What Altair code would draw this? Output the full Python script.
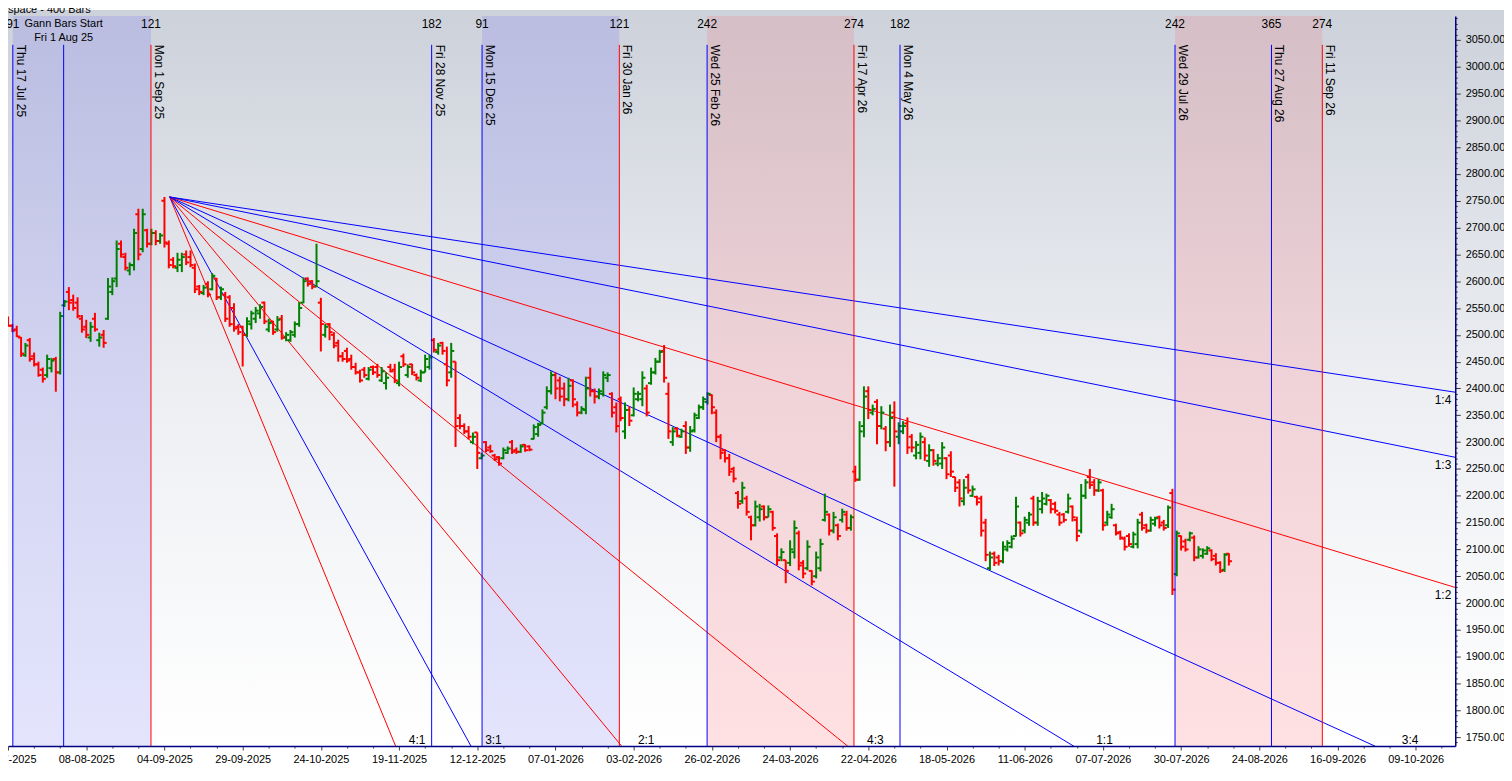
import altair as alt
import pandas as pd

# ---------------- data ----------------
bar_open = [
    2518, 2530, 2517, 2510, 2495, 2462, 2490, 2460, 2445, 2435,
    2425, 2438, 2455, 2430, 2555, 2580, 2565, 2560, 2530, 2515,
    2495, 2530, 2490, 2500, 2530, 2580, 2605, 2670, 2645, 2620,
    2630, 2725, 2660, 2695, 2670, 2690, 2675, 2750, 2670, 2640,
    2625, 2630, 2650, 2645, 2625, 2590, 2578, 2595, 2585, 2605,
    2570, 2575, 2570, 2550, 2515, 2515, 2500, 2520, 2530, 2540,
    2560, 2510, 2525, 2510, 2530, 2495, 2490, 2500, 2520, 2560,
    2605, 2600, 2590, 2560, 2500, 2520, 2500, 2485, 2460, 2470,
    2455, 2440, 2430, 2435, 2418, 2440, 2440, 2415, 2410, 2440,
    2435, 2410, 2460, 2425, 2445, 2425, 2415, 2430, 2440, 2490,
    2468, 2485, 2445, 2430, 2450, 2345, 2330, 2320, 2300, 2318,
    2270, 2300, 2290, 2275, 2272, 2270, 2280, 2300, 2285, 2282,
    2295, 2292, 2306, 2315, 2335, 2365, 2395, 2425, 2415, 2400,
    2380, 2415, 2370, 2355, 2360, 2420, 2395, 2385, 2390, 2420,
    2390, 2365, 2380, 2320, 2360, 2350, 2380, 2380, 2400, 2410,
    2430, 2450, 2470, 2390, 2300, 2325, 2310, 2330, 2290, 2322,
    2345, 2365, 2375, 2388, 2355, 2310, 2285, 2270, 2250, 2205,
    2190, 2195, 2160, 2145, 2160, 2180, 2160, 2170, 2125, 2085,
    2080, 2075, 2095, 2130, 2075, 2065, 2060, 2050, 2065, 2155,
    2165, 2135, 2145, 2155, 2165, 2140, 2245, 2230, 2330, 2395,
    2355, 2375, 2330, 2325, 2300, 2355, 2310, 2320, 2335, 2310,
    2275, 2280, 2300, 2265, 2285, 2260, 2260, 2270, 2275, 2235,
    2225, 2190, 2235, 2200, 2198, 2195, 2150, 2065, 2092, 2085,
    2078, 2100, 2105, 2125, 2150, 2135, 2150, 2195, 2150, 2175,
    2185, 2192, 2185, 2165, 2165, 2170, 2180, 2155, 2135, 2200,
    2235, 2225, 2210, 2210, 2150, 2160, 2145, 2132, 2120, 2125,
    2105, 2110, 2165, 2145, 2135, 2148, 2160, 2150, 2145, 2205,
    2054, 2125, 2115, 2118, 2122, 2085, 2088, 2092, 2098, 2088,
    2075, 2062, 2092,
]
bar_high = [
    2534, 2534, 2520, 2517, 2496, 2485, 2494, 2467, 2450, 2439,
    2463, 2457, 2459, 2543, 2565, 2589, 2575, 2570, 2537, 2528,
    2524, 2541, 2504, 2509, 2606, 2607, 2676, 2676, 2653, 2635,
    2698, 2735, 2735, 2698, 2698, 2695, 2690, 2757, 2676, 2645,
    2653, 2653, 2657, 2657, 2633, 2593, 2593, 2600, 2615, 2606,
    2590, 2580, 2574, 2559, 2520, 2517, 2533, 2545, 2552, 2557,
    2562, 2530, 2526, 2535, 2537, 2505, 2509, 2525, 2561, 2607,
    2607, 2602, 2670, 2569, 2520, 2522, 2505, 2491, 2468, 2476,
    2463, 2448, 2435, 2440, 2440, 2443, 2446, 2440, 2430, 2446,
    2446, 2450, 2465, 2445, 2446, 2428, 2435, 2463, 2463, 2494,
    2485, 2487, 2478, 2485, 2450, 2352, 2335, 2330, 2318, 2318,
    2280, 2302, 2295, 2278, 2274, 2290, 2292, 2304, 2290, 2296,
    2296, 2294, 2333, 2336, 2361, 2404, 2432, 2430, 2422, 2411,
    2420, 2417, 2376, 2367, 2422, 2439, 2400, 2400, 2432, 2430,
    2393, 2374, 2385, 2374, 2367, 2402, 2395, 2432, 2407, 2439,
    2457, 2472, 2481, 2411, 2328, 2328, 2325, 2339, 2330, 2355,
    2370, 2385, 2393, 2389, 2361, 2315, 2287, 2278, 2254, 2209,
    2226, 2200, 2163, 2191, 2185, 2182, 2182, 2172, 2130, 2102,
    2080, 2117, 2154, 2135, 2080, 2117, 2061, 2096, 2120, 2204,
    2167, 2170, 2148, 2176, 2172, 2165, 2256, 2339, 2404, 2404,
    2370, 2380, 2367, 2330, 2370, 2376, 2337, 2339, 2346, 2315,
    2302, 2318, 2309, 2296, 2287, 2278, 2300, 2272, 2283, 2235,
    2231, 2231, 2241, 2219, 2200, 2200, 2157, 2096, 2096, 2090,
    2115, 2117, 2126, 2198, 2152, 2161, 2170, 2200, 2198, 2207,
    2204, 2194, 2189, 2170, 2168, 2204, 2182, 2161, 2222, 2231,
    2250, 2231, 2231, 2213, 2172, 2185, 2148, 2135, 2124, 2130,
    2133, 2157, 2170, 2148, 2161, 2161, 2163, 2155, 2182, 2213,
    2135, 2126, 2120, 2133, 2126, 2106, 2102, 2106, 2100, 2093,
    2078, 2093, 2093,
]
bar_low = [
    2515, 2516, 2505, 2496, 2459, 2459, 2450, 2441, 2422, 2411,
    2420, 2430, 2394, 2426, 2552, 2546, 2545, 2531, 2504, 2494,
    2487, 2506, 2478, 2476, 2528, 2574, 2589, 2644, 2620, 2611,
    2620, 2639, 2654, 2663, 2667, 2667, 2670, 2663, 2624, 2624,
    2617, 2617, 2630, 2626, 2578, 2574, 2574, 2570, 2583, 2565,
    2565, 2524, 2515, 2506, 2500, 2441, 2496, 2510, 2522, 2530,
    2520, 2505, 2500, 2506, 2491, 2488, 2487, 2495, 2515, 2559,
    2590, 2585, 2589, 2469, 2495, 2490, 2475, 2450, 2450, 2448,
    2435, 2426, 2411, 2420, 2415, 2425, 2420, 2412, 2398, 2430,
    2410, 2404, 2440, 2420, 2425, 2415, 2412, 2430, 2435, 2467,
    2463, 2463, 2404, 2420, 2291, 2324, 2315, 2305, 2296, 2250,
    2268, 2281, 2280, 2265, 2256, 2268, 2278, 2278, 2278, 2280,
    2282, 2283, 2305, 2310, 2333, 2361, 2389, 2380, 2376, 2367,
    2376, 2365, 2348, 2352, 2352, 2385, 2372, 2380, 2385, 2412,
    2346, 2318, 2339, 2306, 2330, 2348, 2376, 2367, 2348, 2407,
    2426, 2448, 2411, 2306, 2293, 2309, 2308, 2278, 2282, 2318,
    2343, 2360, 2370, 2352, 2300, 2268, 2262, 2237, 2225, 2176,
    2185, 2163, 2117, 2143, 2152, 2154, 2160, 2135, 2070, 2078,
    2037, 2069, 2083, 2061, 2046, 2061, 2033, 2046, 2059, 2152,
    2126, 2130, 2117, 2150, 2135, 2135, 2226, 2228, 2309, 2343,
    2350, 2296, 2324, 2283, 2291, 2217, 2296, 2315, 2278, 2281,
    2268, 2268, 2265, 2254, 2256, 2255, 2250, 2231, 2235, 2207,
    2180, 2182, 2204, 2198, 2182, 2124, 2078, 2061, 2069, 2070,
    2074, 2096, 2102, 2124, 2124, 2130, 2144, 2144, 2144, 2167,
    2182, 2167, 2167, 2144, 2150, 2167, 2152, 2115, 2130, 2194,
    2213, 2200, 2207, 2135, 2144, 2157, 2126, 2118, 2098, 2105,
    2102, 2102, 2135, 2130, 2133, 2143, 2139, 2135, 2140, 2015,
    2050, 2098, 2096, 2115, 2078, 2083, 2083, 2090, 2078, 2070,
    2056, 2058, 2070,
]
bar_close = [
    2530, 2517, 2508, 2497, 2465, 2480, 2455, 2445, 2425, 2418,
    2455, 2452, 2430, 2535, 2562, 2560, 2550, 2535, 2510, 2500,
    2515, 2510, 2495, 2485, 2590, 2600, 2660, 2650, 2625, 2630,
    2690, 2650, 2725, 2670, 2690, 2675, 2685, 2672, 2630, 2628,
    2640, 2645, 2635, 2630, 2585, 2580, 2588, 2575, 2610, 2570,
    2585, 2530, 2520, 2512, 2505, 2500, 2525, 2540, 2545, 2552,
    2525, 2522, 2505, 2528, 2495, 2500, 2505, 2520, 2550, 2600,
    2595, 2590, 2600, 2520, 2515, 2505, 2480, 2460, 2455, 2452,
    2440, 2430, 2415, 2425, 2435, 2430, 2425, 2432, 2420, 2432,
    2415, 2440, 2445, 2440, 2430, 2420, 2430, 2455, 2458, 2472,
    2480, 2470, 2415, 2470, 2330, 2330, 2320, 2310, 2310, 2280,
    2275, 2285, 2283, 2268, 2260, 2285, 2288, 2282, 2282, 2292,
    2285, 2286, 2328, 2332, 2355, 2395, 2425, 2400, 2385, 2380,
    2405, 2380, 2355, 2362, 2400, 2395, 2385, 2395, 2425, 2425,
    2355, 2330, 2345, 2360, 2340, 2390, 2390, 2420, 2355, 2430,
    2450, 2468, 2420, 2320, 2320, 2312, 2320, 2290, 2320, 2350,
    2365, 2380, 2390, 2365, 2310, 2280, 2270, 2245, 2232, 2185,
    2215, 2170, 2145, 2180, 2175, 2160, 2175, 2140, 2080, 2095,
    2060, 2100, 2140, 2070, 2055, 2105, 2040, 2085, 2110, 2170,
    2135, 2160, 2125, 2170, 2140, 2160, 2230, 2320, 2385, 2360,
    2362, 2330, 2355, 2300, 2345, 2320, 2330, 2330, 2290, 2290,
    2295, 2310, 2275, 2285, 2265, 2270, 2290, 2240, 2245, 2215,
    2195, 2215, 2210, 2212, 2188, 2135, 2090, 2085, 2075, 2078,
    2105, 2112, 2120, 2180, 2130, 2155, 2165, 2150, 2190, 2195,
    2200, 2175, 2172, 2150, 2155, 2195, 2160, 2125, 2200, 2225,
    2220, 2210, 2225, 2145, 2165, 2175, 2130, 2122, 2105, 2110,
    2128, 2150, 2140, 2135, 2155, 2158, 2145, 2140, 2178, 2025,
    2130, 2105, 2100, 2130, 2085, 2100, 2098, 2102, 2082, 2075,
    2060, 2090, 2078,
]

# bottom axis date labels (one every 18 bars, first at bar 1)
date_labels = [
    "15-07-2025", "08-08-2025", "04-09-2025", "29-09-2025", "24-10-2025",
    "19-11-2025", "12-12-2025", "07-01-2026", "03-02-2026", "26-02-2026",
    "24-03-2026", "22-04-2026", "18-05-2026", "11-06-2026", "07-07-2026",
    "30-07-2026", "24-08-2026", "16-09-2026", "09-10-2026",
]
label_first = 1
label_step = 18

# Gann time verticals (bar positions)
vline_bar = [2.1, 13.8, 33.9, 98.5, 110.1, 141.7, 161.9, 195.7, 206.3, 269.6, 291.8, 303.5]
vline_color = ["blue", "blue", "red", "blue", "blue", "red", "blue", "red", "blue", "blue", "blue", "red"]
vline_count = ["91", "", "121", "182", "91", "121", "242", "274", "182", "242", "365", "274"]
vline_date = ["Thu 17 Jul 25", "", "Mon 1 Sep 25", "Fri 28 Nov 25", "Mon 15 Dec 25",
              "Fri 30 Jan 26", "Wed 25 Feb 26", "Fri 17 Apr 26", "Mon 4 May 26",
              "Wed 29 Jul 26", "Thu 27 Aug 26", "Fri 11 Sep 26"]
start_bar = 13.8
start_text = ["Gann Bars Start", "Fri 1 Aug 25"]

# shaded time windows
shade_from = [2.1, 110.1, 161.9, 269.6]
shade_to = [33.9, 141.7, 195.7, 303.5]
shade_kind = ["blue", "blue", "red", "red"]

# Gann fan
fan_origin_bar = 38.2
fan_origin_price = 2757
fan_unit = 4.92            # price per bar for the 1:1 line
fan_names = ["4:1", "3:1", "2:1", "4:3", "1:1", "3:4", "1:2", "1:3", "1:4"]
fan_ratio = [4, 3, 2, 4 / 3, 1, 0.75, 0.5, 1 / 3, 0.25]
fan_color = ["red", "blue", "red", "red", "blue", "blue", "red", "blue", "blue"]
fan_label_price = 1719     # price where the fan labels sit along the bottom edge

title_text = "space - 400 Bars"

# ---------------- layout ----------------
PW, PH = 1455, 734          # plot area
RIGHT = 49
X_MIN, X_MAX = 0.99, 334.1
Y_MIN, Y_MAX = 1733.4, 3094.4
FONT = "Liberation Sans"
UP, DOWN = "#008000", "#ff0000"
LINE = {"blue": "#0000ff", "red": "#ff0000"}

xs = alt.Scale(domain=[X_MIN, X_MAX], nice=False, zero=False)
ys = alt.Scale(domain=[Y_MIN, Y_MAX], nice=False, zero=False)

bars = pd.DataFrame({
    "i": list(range(len(bar_open))),
    "open": bar_open, "high": bar_high, "low": bar_low, "close": bar_close,
})

label_arr = "[" + ",".join("'" + d + "'" for d in date_labels) + "]"
is_lbl = f"(datum.value - {label_first}) % {label_step} == 0"
x_axis = alt.Axis(
    zindex=1,
    values=list(range(label_first, 332, 6)),
    labelExpr=f"{is_lbl} ? {label_arr}[round((datum.value - {label_first}) / {label_step})] : ''",
    tickSize={"condition": {"test": is_lbl, "value": 4}, "value": 2},
    title=None, grid=False, domainColor="#000080", domainWidth=1.5,
    tickColor="#444444", labelFont=FONT, labelFontSize=11, labelColor="#000000",
    labelPadding=4, labelOverlap=False, labelFlush=False, labelBound=False,
)
y_axis = alt.Axis(
    orient="right", zindex=1,
    values=list(range(1740, 3095, 10)),
    labelExpr="datum.value % 50 == 0 ? format(datum.value, '.2f') : ''",
    tickSize={"condition": {"test": "datum.value % 50 == 0", "value": 5}, "value": 2},
    title=None, grid=False, domainColor="#000080", domainWidth=1.5,
    tickColor="#333333", labelFont=FONT, labelFontSize=11, labelColor="#000000",
    labelPadding=5, labelOverlap=False, labelFlush=False, labelBound=False,
)


def X(field):
    return alt.X(field, type="quantitative", scale=xs, axis=x_axis, title=None)


def Y(field):
    return alt.Y(field, type="quantitative", scale=ys, axis=y_axis, title=None)


one = pd.DataFrame({"k": [0]})


def grad(stops):
    return {"gradient": "linear", "x1": 0, "y1": 0, "x2": 0, "y2": 1,
            "stops": [{"offset": o, "color": c} for o, c in stops]}


bg_stops = [(0, "#cdd1da"), (0.5, "#eceef2"), (1, "#ffffff")]
background = alt.Chart(one).mark_rect(color=grad(bg_stops), clip=False).encode(
    x=alt.value(0), x2=alt.value(PW + RIGHT), y=alt.value(-6), y2=alt.value(PH))

shades = pd.DataFrame({"x0": shade_from, "x1": shade_to, "kind": shade_kind})
shade_blue = alt.Chart(shades).transform_filter("datum.kind == 'blue'").mark_rect(
    color=grad([(0, "#babde0"), (0.5, "#d3d4f1"), (1, "#e4e4fd")]), clip=True
).encode(x=X("x0"), x2="x1:Q", y=alt.value(0), y2=alt.value(PH))
shade_red = alt.Chart(shades).transform_filter("datum.kind == 'red'").mark_rect(
    color=grad([(0, "#d5bec6"), (0.5, "#efd3d8"), (1, "#ffe1e3")]), clip=True
).encode(x=X("x0"), x2="x1:Q", y=alt.value(0), y2=alt.value(PH))

fan_rows = []
for nm, r, c in zip(fan_names, fan_ratio, fan_color):
    slope = r * fan_unit
    p_end = fan_origin_price - slope * (X_MAX - fan_origin_bar)
    hit = fan_origin_bar + (fan_origin_price - fan_label_price) / slope
    fan_rows.append({"name": nm, "x0": fan_origin_bar, "p0": fan_origin_price,
                     "x1": X_MAX, "p1": p_end, "col": LINE[c],
                     "hit": hit, "bottom": bool(hit <= X_MAX)})
fan = pd.DataFrame(fan_rows)

fan_lines = alt.Chart(fan).mark_rule(strokeWidth=1, clip=True).encode(
    x=X("x0"), x2="x1:Q", y=Y("p0"), y2="p1:Q",
    color=alt.Color("col:N", scale=None),
)

col = alt.condition("datum.close >= datum.open", alt.value(UP), alt.value(DOWN))
wick = alt.Chart(bars).mark_rule(strokeWidth=2, clip=True).encode(
    x=X("i"), y=Y("low"), y2="high:Q", color=col,
)
open_tick = alt.Chart(bars).transform_calculate(xl="datum.i - 0.7").mark_rule(
    strokeWidth=2, clip=True
).encode(x=X("xl"), x2="i:Q", y=Y("open"), color=col)
close_tick = alt.Chart(bars).transform_calculate(xr="datum.i + 0.7").mark_rule(
    strokeWidth=2, clip=True
).encode(x=X("i"), x2="xr:Q", y=Y("close"), color=col)

vl = pd.DataFrame({"x": vline_bar, "col": [LINE[c] for c in vline_color],
                   "count": vline_count, "date": vline_date})
vlines = alt.Chart(vl).mark_rule(strokeWidth=1, clip=True).encode(
    x=X("x"), y=alt.value(29), y2=alt.value(PH),
    color=alt.Color("col:N", scale=None),
)
vdates = alt.Chart(vl).transform_filter("datum.date != ''").mark_text(
    angle=90, align="left", baseline="alphabetic", dy=-4, font=FONT, fontSize=12, color="#000000"
).encode(x=X("x"), y=alt.value(29), text="date:N")
vcounts = alt.Chart(vl).transform_filter("datum.count != ''").mark_text(
    align="center", baseline="middle", font=FONT, fontSize=12, color="#000000"
).encode(x=X("x"), y=alt.value(8), text="count:N")

start_df = pd.DataFrame({"x": [start_bar, start_bar], "t": start_text, "row": [0, 1]})
start_top = alt.Chart(start_df).transform_filter("datum.row == 0").mark_text(
    align="center", baseline="middle", font=FONT, fontSize=11, color="#000000"
).encode(x=X("x"), y=alt.value(8), text="t:N")
start_bot = alt.Chart(start_df).transform_filter("datum.row == 1").mark_text(
    align="center", baseline="middle", font=FONT, fontSize=11, color="#000000"
).encode(x=X("x"), y=alt.value(22), text="t:N")

fan_bottom = alt.Chart(fan).transform_filter("datum.bottom").mark_text(
    align="left", baseline="middle", dx=10, font=FONT, fontSize=12, color="#000000"
).encode(x=X("hit"), y=alt.value(PH - 6), text="name:N")
fan_right = alt.Chart(fan).transform_filter("!datum.bottom").mark_text(
    align="right", baseline="middle", dx=-4, dy=8, font=FONT, fontSize=12, color="#000000"
).encode(x=X("x1"), y=Y("p1"), text="name:N")

title = alt.Chart(pd.DataFrame({"t": [title_text]})).mark_text(
    align="left", baseline="bottom", font=FONT, fontSize=11, color="#000000"
).encode(x=alt.value(0), y=alt.value(-1), text="t:N")

chart = alt.layer(
    background, shade_blue, shade_red, fan_lines, wick, open_tick, close_tick,
    vlines, vdates, vcounts, start_top, start_bot, fan_bottom, fan_right, title,
).properties(
    width=PW, height=PH,
    autosize=alt.AutoSizeParams(type="none"),
    padding={"left": 0, "top": 6, "right": RIGHT, "bottom": 17},
    background="#ffffff",
).configure_view(stroke=None)

chart.save("out.html", embed_options={"renderer": "svg", "actions": False})
